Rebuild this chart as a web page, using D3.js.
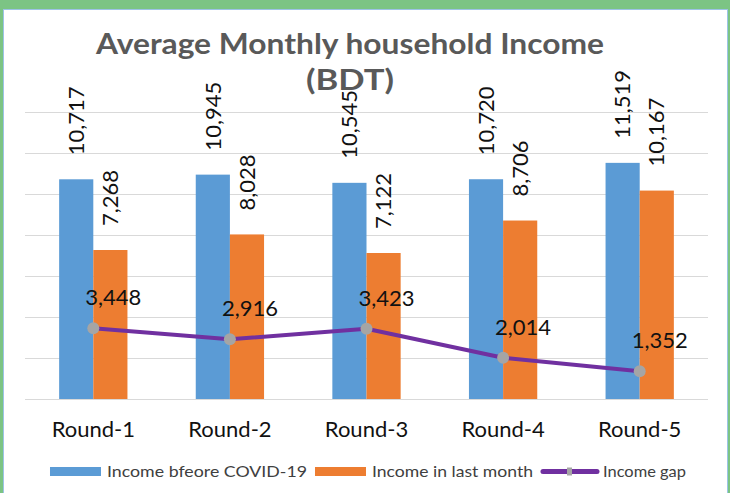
<!DOCTYPE html>
<html>
<head>
<meta charset="utf-8">
<script src="https://cdn.jsdelivr.net/npm/d3@7"></script>
<style>
  body { margin: 0; background: #7cc484; }
  svg { display: block; font-family: Lato, "Open Sans", sans-serif; }
</style>
</head>
<body>
<svg id="chart" width="730" height="493"></svg>
<script>
// Data
const rounds = ["Round-1", "Round-2", "Round-3", "Round-4", "Round-5"];
const incomeBefore = [10717, 10945, 10545, 10720, 11519];
const incomeLastMonth = [7268, 8028, 7122, 8706, 10167];
const incomeGap = [3448, 2916, 3423, 2014, 1352];
const yTicks = [0, 2000, 4000, 6000, 8000, 10000, 12000, 14000];
const seriesNames = ["Income bfeore COVID-19", "Income in last month", "Income gap"];
const titleLines = ["Average Monthly household Income", "(BDT)"];

const colors = { before: "#5b9bd5", last: "#ed7d31", gap: "#7030a0", marker: "#a5a5a5" };

const svg = d3.select("#chart");

// white panel with thin border (green frame shows around it)
svg.append("rect")
    .attr("x", 3.5).attr("y", 9.5)
    .attr("width", 724).attr("height", 490)
    .attr("fill", "#fff")
    .attr("stroke", "#9dc3e6");

const plot = { left: 25, right: 708, top: 112, bottom: 399 };

const x = d3.scaleBand().domain(rounds).range([plot.left, plot.right]);
const x1 = d3.scaleBand().domain([0, 1]).range([0, x.bandwidth()]).paddingOuter(1);
const y = d3.scaleLinear().domain([0, 14000]).range([plot.bottom, plot.top]);

// Gridlines
const grid = svg.append("g")
    .attr("transform", `translate(${plot.left},0)`)
    .call(d3.axisLeft(y).tickValues(yTicks).tickSize(-(plot.right - plot.left)).tickFormat(""));
grid.select(".domain").remove();
grid.selectAll(".tick line").attr("stroke", "#d9d9d9").attr("stroke-width", 1.2);

// Title (the original face is a wide Gill Sans, so stretch to its width)
const titleWidths = [508, 88];
svg.append("g").selectAll("text")
    .data(titleLines)
    .join("text")
    .attr("x", 350)
    .attr("y", (d, i) => 54 + i * 36)
    .attr("text-anchor", "middle")
    .attr("font-size", 28)
    .attr("font-weight", "bold")
    .attr("fill", "#595959")
    .attr("textLength", (d, i) => titleWidths[i])
    .attr("lengthAdjust", "spacingAndGlyphs")
    .text(d => d);

// Bars
const series = [
    { key: 0, values: incomeBefore, color: colors.before },
    { key: 1, values: incomeLastMonth, color: colors.last }
];
const barData = series.flatMap(s => s.values.map((v, i) => ({ key: s.key, round: rounds[i], value: v, color: s.color })));

svg.append("g").selectAll("rect")
    .data(barData)
    .join("rect")
    .attr("x", d => x(d.round) + x1(d.key))
    .attr("y", d => y(d.value))
    .attr("width", x1.bandwidth())
    .attr("height", d => y(0) - y(d.value))
    .attr("fill", d => d.color);

// Rotated bar labels
svg.append("g").selectAll("text")
    .data(barData)
    .join("text")
    .attr("transform", d => `translate(${x(d.round) + x1(d.key) + x1.bandwidth() / 2},${y(d.value) - 24}) rotate(-90)`)
    .attr("dy", "0.35em")
    .attr("font-size", 22)
    .attr("fill", "#111")
    .text(d => d3.format(",")(d.value));

// Gap line
const cx = r => x(r) + x.bandwidth() / 2;
const line = d3.line().x((d, i) => cx(rounds[i])).y(d => y(d));
svg.append("path")
    .datum(incomeGap)
    .attr("d", line)
    .attr("fill", "none")
    .attr("stroke", colors.gap)
    .attr("stroke-width", 4)
    .attr("stroke-linejoin", "round");

svg.append("g").selectAll("circle")
    .data(incomeGap)
    .join("circle")
    .attr("cx", (d, i) => cx(rounds[i]))
    .attr("cy", d => y(d))
    .attr("r", 6)
    .attr("fill", colors.marker);

svg.append("g").selectAll("text")
    .data(incomeGap)
    .join("text")
    .attr("x", (d, i) => cx(rounds[i]) + 20)
    .attr("y", d => y(d) - 23)
    .attr("text-anchor", "middle")
    .attr("font-size", 22)
    .attr("fill", "#111")
    .text(d => d3.format(",")(d));

// Category axis
const xAxis = svg.append("g")
    .attr("transform", `translate(0,${plot.bottom})`)
    .call(d3.axisBottom(x).tickSize(0).tickPadding(22));
xAxis.select(".domain").remove();
xAxis.selectAll("text")
    .attr("font-size", 22)
    .attr("font-family", "Lato, sans-serif")
    .attr("fill", "#111");

// Legend
const legendTextWidths = [200, 161, 83];
const legend = svg.append("g");
const items = legend.selectAll("g")
    .data(seriesNames)
    .join("g");
items.each(function(d, i) {
    const g = d3.select(this);
    if (i < 2) {
        g.append("rect").attr("x", 0).attr("y", -4.5).attr("width", 51).attr("height", 9)
            .attr("fill", i === 0 ? colors.before : colors.last);
    } else {
        g.append("line").attr("x1", 2).attr("x2", 56).attr("y1", 0).attr("y2", 0)
            .attr("stroke", colors.gap).attr("stroke-width", 5).attr("stroke-linecap", "round");
        g.append("rect").attr("x", 26).attr("y", -4).attr("width", 5).attr("height", 8).attr("fill", colors.marker);
    }
    g.append("text")
        .attr("x", i < 2 ? 57 : 62)
        .attr("dy", "0.35em")
        .attr("font-size", 16)
        .attr("fill", "#404040")
        .attr("textLength", legendTextWidths[i])
        .attr("lengthAdjust", "spacingAndGlyphs")
        .text(d);
});
let pos = 0;
items.each(function() {
    const w = this.getBBox().width;
    d3.select(this).attr("transform", `translate(${pos},0)`);
    pos += w + 8;
});
const legendWidth = pos - 8;
legend.attr("transform", `translate(${367 - legendWidth / 2},471.5)`);
</script>
</body>
</html>
